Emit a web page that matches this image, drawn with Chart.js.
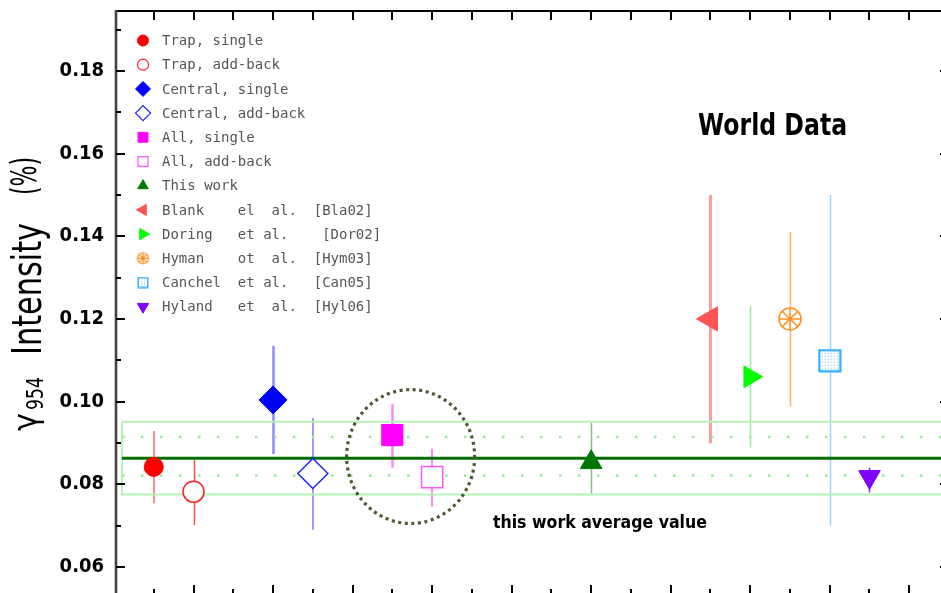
<!DOCTYPE html>
<html><head><meta charset="utf-8">
<script src="https://cdn.jsdelivr.net/npm/chart.js@4.4.1/dist/chart.umd.min.js"></script>
<style>html,body{margin:0;padding:0;overflow:hidden;background:#fff}canvas{display:block}</style>
</head><body>
<canvas id="c" width="960" height="600"></canvas>
<script>
// ---------- data ----------
const labels = [
  'Trap, single', 'Trap, add-back', 'Central, single', 'Central, add-back',
  'All, single', 'All, add-back', 'This work',
  'Blank    el  al.  [Bla02]', 'Doring   et al.    [Dor02]', 'Hyman    ot  al.  [Hym03]',
  'Canchel  et al.   [Can05]', 'Hyland   et  al.  [Hyl06]'
];
const xIndex  = [1, 2, 4, 5, 7, 8, 12, 15, 16, 17, 18, 19];
const values  = [0.0842, 0.0782, 0.1004, 0.0826, 0.0919, 0.0817, 0.0853, 0.1200, 0.1060, 0.1200, 0.1099, 0.0818];
const errLow  = [0.0754, 0.0701, 0.0873, 0.0690, 0.0840, 0.0746, 0.0778, 0.0899, 0.0889, 0.0988, 0.0700, 0.0780];
const errHigh = [0.0929, 0.0859, 0.1135, 0.0960, 0.0994, 0.0886, 0.0949, 0.1500, 0.1231, 0.1411, 0.1500, 0.0840];
const averageValue = 0.0863;
const bandLow = 0.0775, bandHigh = 0.0951;
const innerLow = 0.0821, innerHigh = 0.0914;
const bandStartX = 0.2, bandEndX = 21.5;
const yMajorTicks = [0.06, 0.08, 0.10, 0.12, 0.14, 0.16, 0.18];
const yMinorTicks = [0.07, 0.09, 0.11, 0.13, 0.15, 0.17, 0.19];
const xTicks = [1,2,3,4,5,6,7,8,9,10,11,12,13,14,15,16,17,18,19,20];
const circleCenter = {x: 7.46, y: 0.0867}, circleRadius = {x: 1.61, y: 0.0162};
const worldLabel = 'World Data';
const averageLabel = 'this work average value';

// ---------- styles ----------
const styles = [
  {color:'#ff0000', fill:'#ff0000', shape:'circle',   rot:0,   r:9.5,  bw:1,   err:'#ff8c8c', ew:2,   lr:5.5},
  {color:'#ff2020', fill:'#ffffff', shape:'circle',   rot:0,   r:10.5, bw:1.5, err:'#ff4a4a', ew:1.5, lr:5.5},
  {color:'#0000ff', fill:'#0000ff', shape:'rectRot',  rot:0,   r:14,   bw:1,   err:'#8c8cff', ew:2.5, lr:7.5},
  {color:'#2020ff', fill:'#ffffff', shape:'rectRot',  rot:0,   r:15,   bw:1.5, err:'#9a9aff', ew:2,   lr:7.5},
  {color:'#ff00ff', fill:'#ff00ff', shape:'rect',     rot:0,   r:15,   bw:1,   err:'#ff88ff', ew:2.5, lr:7},
  {color:'#ff55ff', fill:'#ffffff', shape:'rect',     rot:0,   r:15,   bw:1.5, err:'#ff88ff', ew:2,   lr:7},
  {color:'#007700', fill:'#007700', shape:'triangle', rot:0,   r:12.5, bw:1,   err:'#8cbc8c', ew:1.5, lr:6},
  {color:'#ff5555', fill:'#ff5555', shape:'triangle', rot:-90, r:14,   bw:1,   err:'#ff9c9c', ew:3,   lr:6.5},
  {color:'#00ff00', fill:'#00ff00', shape:'triangle', rot:90,  r:12.5, bw:1,   err:'#99ee99', ew:1.5, lr:6.5},
  {color:'#ff8c1a', fill:'#ffffff', shape:'hyman',    rot:0,   r:11,   bw:1.5, err:'#ffb070', ew:1.5, lr:5.5},
  {color:'#1aa3ff', fill:'#ffffff', shape:'canchel',  rot:0,   r:11,   bw:2,   err:'#99d4ff', ew:1.5, lr:5},
  {color:'#7f00ff', fill:'#7f00ff', shape:'triangle', rot:180, r:12.5, bw:1,   err:'#8f20ff', ew:1.5, lr:6.5}
];
const narrowFont = '"DejaVu Sans Condensed", sans-serif';

function makeHyman(r, color, lw) {
  const s = Math.ceil(2 * r + 4), c = document.createElement('canvas');
  c.width = c.height = s;
  const g = c.getContext('2d'), m = s / 2;
  g.strokeStyle = color; g.lineWidth = lw; g.fillStyle = '#fff';
  g.beginPath(); g.arc(m, m, r, 0, 2 * Math.PI); g.fill(); g.stroke();
  [0, 45, 90, 135].forEach(a => {
    const t = a * Math.PI / 180;
    g.beginPath(); g.moveTo(m - r * Math.cos(t), m - r * Math.sin(t));
    g.lineTo(m + r * Math.cos(t), m + r * Math.sin(t)); g.stroke();
  });
  g.fillStyle = color; g.beginPath(); g.arc(m, m, 1.6, 0, 2 * Math.PI); g.fill();
  return c;
}
function makeCanchel(side, color, lw) {
  const s = Math.ceil(side + 2), c = document.createElement('canvas');
  c.width = c.height = s;
  const g = c.getContext('2d');
  g.fillStyle = '#fff'; g.fillRect(0, 0, s, s);
  g.fillStyle = '#6cbcff';
  for (let yy = 4; yy < s - 3; yy += 3) for (let xx = 4; xx < s - 3; xx += 3) g.fillRect(xx, yy, 1, 1);
  g.strokeStyle = color; g.lineWidth = lw;
  g.strokeRect(lw / 2 + 0.5, lw / 2 + 0.5, s - lw - 1, s - lw - 1);
  return c;
}
const pointImages = styles.map(st => st.shape === 'hyman' ? makeHyman(st.r, st.color, st.bw)
  : st.shape === 'canchel' ? makeCanchel(2 * st.r, st.color, st.bw) : null);
const legendImages = styles.map(st => st.shape === 'hyman' ? makeHyman(st.lr, st.color, 1.2)
  : st.shape === 'canchel' ? makeCanchel(2 * st.lr, st.color, 1.3) : null);

// ---------- datasets ----------
const markerDatasets = labels.map((lab, i) => ({
  label: lab,
  data: [{x: xIndex[i], y: values[i]}],
  pointStyle: pointImages[i] || styles[i].shape,
  pointRotation: styles[i].rot,
  pointRadius: styles[i].r,
  backgroundColor: styles[i].fill,
  borderColor: styles[i].color,
  borderWidth: styles[i].bw,
  order: 0
}));
const lineDs = (pts, color, width, dash, order) => ({
  label: '', data: pts, showLine: true, pointRadius: 0, borderColor: color,
  borderWidth: width, borderDash: dash, tension: 0, fill: false, order: order
});
const bandDatasets = [
  lineDs([{x:bandStartX,y:bandHigh},{x:bandEndX,y:bandHigh},{x:bandEndX,y:bandLow},{x:bandStartX,y:bandLow},{x:bandStartX,y:bandHigh}], '#b6f2b6', 2, [], 6),
  lineDs([{x:bandStartX,y:innerHigh},{x:bandEndX,y:innerHigh}], '#98ea98', 2.5, [2.5, 16.5], 5),
  lineDs([{x:bandStartX,y:innerLow},{x:bandEndX,y:innerLow}], '#98ea98', 2.5, [2.5, 16.5], 5),
  lineDs([{x:bandStartX,y:averageValue},{x:bandEndX,y:averageValue}], '#006e00', 3, [], 4)
];

// ---------- helpers ----------
function drawMarker(ctx, st, img, x, y, r) {
  if (img) { ctx.drawImage(img, x - img.width / 2, y - img.height / 2); return; }
  ctx.save();
  ctx.fillStyle = st.fill; ctx.strokeStyle = st.color; ctx.lineWidth = st.fill === '#ffffff' ? 1.2 : 1;
  ctx.beginPath();
  const rad = st.rot * Math.PI / 180;
  if (st.shape === 'circle') ctx.arc(x, y, r, 0, 2 * Math.PI);
  else if (st.shape === 'rectRot') { ctx.moveTo(x - r, y); ctx.lineTo(x, y - r); ctx.lineTo(x + r, y); ctx.lineTo(x, y + r); ctx.closePath(); }
  else if (st.shape === 'rect') { const s = r * Math.SQRT1_2; ctx.rect(x - s, y - s, 2 * s, 2 * s); }
  else if (st.shape === 'triangle') {
    let a = rad;
    ctx.moveTo(x + Math.sin(a) * r, y - Math.cos(a) * r);
    a += 2 * Math.PI / 3; ctx.lineTo(x + Math.sin(a) * r, y - Math.cos(a) * r);
    a += 2 * Math.PI / 3; ctx.lineTo(x + Math.sin(a) * r, y - Math.cos(a) * r);
    ctx.closePath();
  }
  ctx.fill(); ctx.stroke();
  ctx.restore();
}

const errorBarPlugin = {
  id: 'errorBars',
  beforeDatasetsDraw(chart) {
    const {ctx, chartArea: a, scales: {x, y}} = chart;
    ctx.save();
    ctx.beginPath(); ctx.rect(a.left, a.top, a.right - a.left, a.bottom - a.top); ctx.clip();
    values.forEach((v, i) => {
      const px = Math.round(x.getPixelForValue(xIndex[i])) + (styles[i].ew % 2 ? 0.5 : 0);
      ctx.strokeStyle = styles[i].err; ctx.lineWidth = styles[i].ew;
      ctx.beginPath();
      ctx.moveTo(px, y.getPixelForValue(errHigh[i]));
      ctx.lineTo(px, y.getPixelForValue(errLow[i]));
      ctx.stroke();
    });
    ctx.restore();
  }
};

const decorPlugin = {
  id: 'decor',
  afterDatasetsDraw(chart) {
    const {ctx, chartArea: a, scales: {x, y}} = chart;
    ctx.save();
    // dotted circle
    const cx = x.getPixelForValue(circleCenter.x), cy = y.getPixelForValue(circleCenter.y);
    const rx = x.getPixelForValue(circleCenter.x + circleRadius.x) - cx;
    const ry = cy - y.getPixelForValue(circleCenter.y + circleRadius.y);
    ctx.strokeStyle = '#4a5a30'; ctx.lineWidth = 3.2; ctx.setLineDash([3, 3.6]);
    ctx.beginPath(); ctx.ellipse(cx, cy, rx, ry, 0, 0, 2 * Math.PI); ctx.stroke();
    ctx.setLineDash([]);
    // texts
    ctx.fillStyle = '#000'; ctx.textBaseline = 'alphabetic'; ctx.textAlign = 'left';
    ctx.font = 'bold 30px "DejaVu Sans"';
    ctx.fillText(worldLabel, x.getPixelForValue(14.69), y.getPixelForValue(0.1645), 149);
    ctx.font = 'bold 17px "DejaVu Sans"';
    ctx.fillText(averageLabel, x.getPixelForValue(9.53), y.getPixelForValue(0.0693), 214);
    // frame
    ctx.strokeStyle = '#000'; ctx.lineWidth = 2;
    ctx.beginPath(); ctx.moveTo(a.left, a.top); ctx.lineTo(a.right, a.top); ctx.lineTo(a.right, a.bottom); ctx.lineTo(a.left, a.bottom); ctx.stroke();
    ctx.strokeStyle = '#444'; ctx.lineWidth = 2.6;
    ctx.beginPath(); ctx.moveTo(a.left, a.top - 1); ctx.lineTo(a.left, a.bottom); ctx.stroke();
    // y ticks
    ctx.strokeStyle = '#000'; ctx.lineWidth = 2;
    yMajorTicks.forEach(v => { const py = Math.round(y.getPixelForValue(v));
      ctx.beginPath(); ctx.moveTo(a.left, py); ctx.lineTo(a.left + 9, py); ctx.moveTo(a.right, py); ctx.lineTo(a.right - 9, py); ctx.stroke(); });
    yMinorTicks.forEach(v => { const py = Math.round(y.getPixelForValue(v));
      ctx.beginPath(); ctx.moveTo(a.left, py); ctx.lineTo(a.left + 5, py); ctx.moveTo(a.right, py); ctx.lineTo(a.right - 5, py); ctx.stroke(); });
    // x ticks
    xTicks.forEach(v => { const px = Math.round(x.getPixelForValue(v));
      const long = v % 2 === 0;
      ctx.beginPath(); ctx.moveTo(px, a.top); ctx.lineTo(px, a.top + 9);
      ctx.moveTo(px, a.bottom); ctx.lineTo(px, a.bottom - (long ? 10 : 6)); ctx.stroke(); });
    ctx.restore();
  },
  afterDraw(chart) {
    const {ctx} = chart;
    ctx.save();
    // legend
    ctx.font = '14px "DejaVu Sans Mono"'; ctx.fillStyle = '#555'; ctx.textBaseline = 'middle'; ctx.textAlign = 'left';
    labels.forEach((lab, i) => {
      const ly = 40.5 + i * 24.2;
      drawMarker(ctx, styles[i], legendImages[i], 143, ly, styles[i].lr);
      ctx.fillStyle = '#555';
      ctx.fillText(lab, 162, ly + 1);
    });
    // y-axis title (rotated, with subscript)
    ctx.translate(41, 0); ctx.rotate(-Math.PI / 2);
    ctx.fillStyle = '#000'; ctx.textBaseline = 'alphabetic';
    ctx.font = '34px ' + narrowFont; ctx.fillText('γ', -431, -4, 18);
    ctx.font = '23px ' + narrowFont; ctx.fillText('954', -410, 2, 33);
    ctx.font = '41px ' + narrowFont; ctx.fillText('Intensity', -355, 0, 132);
    ctx.font = '36px ' + narrowFont; ctx.fillText('(%)', -195, -5, 38);
    ctx.restore();
  }
};

function zeroPadding(s) { s.paddingTop = 0; s.paddingBottom = 0; s.paddingLeft = 0; s.paddingRight = 0; }

new Chart(document.getElementById('c'), {
  type: 'scatter',
  data: { datasets: [...markerDatasets, ...bandDatasets] },
  options: {
    responsive: false, animation: false, devicePixelRatio: 1, events: [],
    layout: { autoPadding: false, padding: { top: 11, right: 11, bottom: 5, left: 0 } },
    plugins: { legend: { display: false }, tooltip: { enabled: false }, title: { display: false } },
    scales: {
      x: { type: 'linear', min: 0.05, max: 21,
           grid: { display: false, drawTicks: false }, border: { display: false },
           ticks: { display: false }, afterFit(s) { s.height = 0; zeroPadding(s); } },
      y: { type: 'linear', min: 0.0532, max: 0.1945,
           grid: { display: false, drawTicks: false }, border: { display: false },
           afterBuildTicks(s) { s.ticks = yMajorTicks.map(v => ({ value: v })); },
           ticks: { padding: 12, color: '#000', font: { family: narrowFont, size: 20, weight: 'bold' },
                    callback: v => v.toFixed(2) },
           afterFit(s) { s.width = 116; zeroPadding(s); } }
    }
  },
  plugins: [errorBarPlugin, decorPlugin]
});
</script>
</body></html>
